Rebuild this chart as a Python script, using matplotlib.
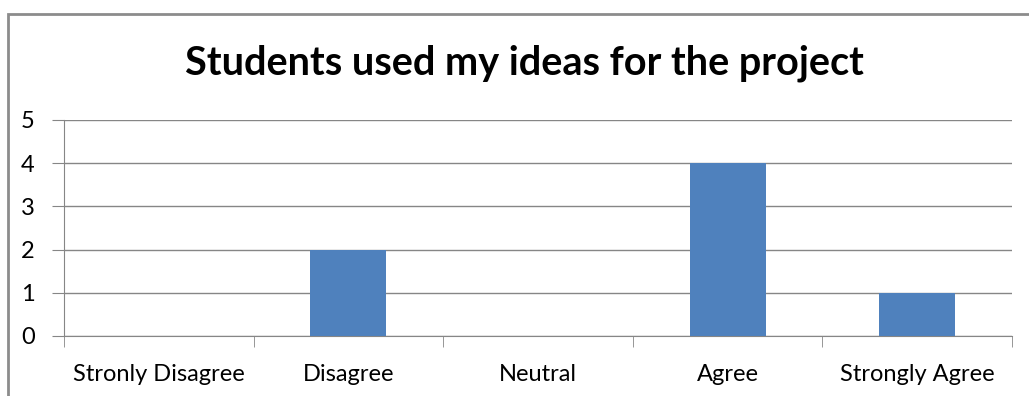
import matplotlib.pyplot as plt
from matplotlib.patches import Rectangle

categories = ["Stronly Disagree", "Disagree", "Neutral", "Agree", "Strongly Agree"]
counts = [0, 2, 0, 4, 1]
y_ticks = [0, 1, 2, 3, 4, 5]

BAR_COLOR = "#4F81BD"
LINE_COLOR = "#868686"

plt.rcParams["font.family"] = ["Lato", "DejaVu Sans"]

fig = plt.figure(figsize=(10.29, 3.96), dpi=100)
ax = fig.add_axes([64 / 1029, 1 - 336 / 396, (1012 - 64) / 1029, (336 - 120) / 396])

# outer chart border (cropped at right and bottom like the screenshot)
fig.patches.append(Rectangle((8 / 1029, -0.1), 1.2, 1 - 14 / 396 + 0.1,
                             transform=fig.transFigure, fill=False,
                             edgecolor="#8c8c8c", linewidth=2))

x = list(range(len(categories)))
ax.bar(x, counts, width=0.4, color=BAR_COLOR, zorder=3)

ax.set_xlim(-0.5, len(categories) - 0.5)
ax.set_ylim(0, 5)
ax.set_yticks(y_ticks)
ax.set_yticklabels([str(v) for v in y_ticks], fontsize=17)
ax.set_xticks(x)
ax.set_xticklabels(categories, fontsize=17)
ax.tick_params(axis="x", length=0, pad=20)
ax.tick_params(axis="y", length=9, color=LINE_COLOR, pad=12)

# tick marks between categories
ax.set_xticks([i + 0.5 for i in range(-1, len(categories))], minor=True)
ax.tick_params(axis="x", which="minor", length=8, color=LINE_COLOR)

ax.grid(axis="y", color=LINE_COLOR, linewidth=1, zorder=0)
for side in ["top", "right"]:
    ax.spines[side].set_visible(False)
ax.spines["left"].set_color(LINE_COLOR)
ax.spines["bottom"].set_color(LINE_COLOR)

fig.text(0.51, 1 - 63 / 396, "Students used my ideas for the project",
         ha="center", va="center", fontsize=28.5, fontweight="bold")

fig.savefig("out.png", dpi=100)
